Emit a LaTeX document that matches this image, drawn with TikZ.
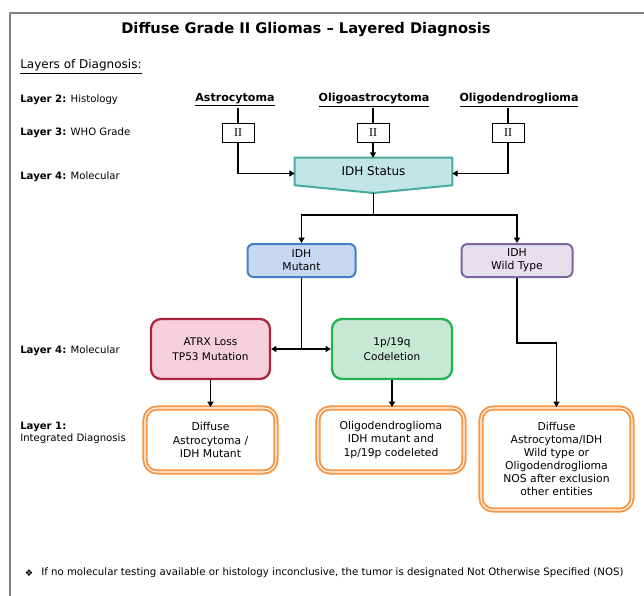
\documentclass[tikz,border=0pt]{standalone}
\usepackage{fontspec}
\setmainfont{DejaVu Sans}
\newfontfamily\gradefont{Liberation Serif}
\usetikzlibrary{arrows.meta,calc}
\definecolor{framegray}{RGB}{128,128,128}
\definecolor{tealfill}{RGB}{192,229,228}
\definecolor{tealdraw}{RGB}{70,170,158}
\definecolor{bluefill}{RGB}{198,217,241}
\definecolor{bluedraw}{RGB}{68,125,200}
\definecolor{lavfill}{RGB}{229,224,236}
\definecolor{lavdraw}{RGB}{128,100,162}
\definecolor{pinkfill}{RGB}{245,208,218}
\definecolor{pinkdraw}{RGB}{172,35,62}
\definecolor{greenfill}{RGB}{198,232,212}
\definecolor{greendraw}{RGB}{35,178,80}
\definecolor{orangedraw}{RGB}{247,150,70}
\begin{document}
\begin{tikzpicture}[x=0.75pt,y=-0.75pt,
  lbl/.style={font=\fontsize{7.6}{9}\selectfont, anchor=west, inner sep=0pt},
  hist/.style={font=\bfseries\fontsize{8.3}{10}\selectfont, inner sep=1pt},
  gradebox/.style={draw, line width=0.6pt, minimum width=24pt, minimum height=14pt, inner sep=0pt, font=\gradefont\fontsize{9}{10}\selectfont},
  rbox/.style={rounded corners=4.5pt, line width=1.5pt, align=center, inner sep=0pt, font=\fontsize{8.1}{9.6}\selectfont, minimum width=81pt, minimum height=24.75pt},
  mbox/.style={rounded corners=7.5pt, line width=1.7pt, align=center, inner sep=0pt, font=\fontsize{7.9}{11.5}\selectfont, minimum width=89.25pt, minimum height=45pt},
  obox/.style={draw=orangedraw, double=white, line width=1.5pt, double distance=0.8pt, rounded corners=9pt, align=center, inner sep=0pt, font=\fontsize{8.1}{9.8}\selectfont, minimum height=48pt},
  arr/.style={line width=1.4pt, -{Triangle[length=4pt,width=4.5pt]}},
  ln/.style={line width=1.4pt},
  darr/.style={line width=1.4pt, {Triangle[length=4pt,width=4.5pt]}-{Triangle[length=4pt,width=4.5pt]}}
]
\useasboundingbox (0,0) rectangle (644,596);
\draw[framegray, line width=1.2pt] (10,596) -- (10,13) -- (644,13);

\node[font=\bfseries\fontsize{11}{13}\selectfont] (title) at (306,30) {Diffuse Grade II Gliomas -- Layered Diagnosis};
\node[lbl, font=\fontsize{9}{11}\selectfont] (layers) at (20,67) {\underline{Layers of Diagnosis:}};
\node[lbl] (l2) at (20,100) {\textbf{Layer 2:} Histology};
\node[lbl] (l3) at (20,133) {\textbf{Layer 3:} WHO Grade};
\node[lbl] (l4a) at (20,177) {\textbf{Layer 4:} Molecular};
\node[lbl] (l4b) at (20,351) {\textbf{Layer 4:} Molecular};
\node[lbl, align=left, anchor=north west] (l1) at (20,422) {\textbf{Layer 1:}\\Integrated Diagnosis};

\node[hist] (astro) at (235,100) {\underline{Astrocytoma}};
\node[hist] (oligoastro) at (374,100) {\underline{Oligoastrocytoma}};
\node[hist] (oligoden) at (519,100) {\underline{Oligodendroglioma}};

\node[gradebox] (g1) at (238,133) {II};
\node[gradebox] (g2) at (373,133) {II};
\node[gradebox] (g3) at (508,133) {II};

\node[minimum width=117.75pt, minimum height=20.25pt, inner sep=0pt] (idh) at (373.5,171.5) {};
\coordinate (idhtip) at (373.5,193);
\draw[fill=tealfill, draw=tealdraw, line width=1.5pt, line join=round]
  (idh.north west) -- (idh.north east) -- (idh.south east) -- (idhtip) -- (idh.south west) -- cycle;
\node[font=\fontsize{9}{11}\selectfont] at (idh) {IDH Status};

\node[rbox, draw=bluedraw, fill=bluefill] (mut) at (301.5,260.5) {IDH\\Mutant};
\node[rbox, draw=lavdraw, fill=lavfill, minimum width=83.25pt] (wt) at (517,260.5) {IDH\\Wild Type};

\node[mbox, draw=pinkdraw, fill=pinkfill] (atrx) at (210.5,349) {ATRX Loss\\TP53 Mutation};
\node[mbox, draw=greendraw, fill=greenfill, minimum width=90pt] (codel) at (392,349) {1p/19q\\Codeletion};

\node[obox, minimum width=98.25pt] (d1) at (210.5,440) {Diffuse\\Astrocytoma /\\IDH Mutant};
\node[obox, minimum width=109.5pt] (d2) at (391,440) {Oligodendroglioma\\IDH mutant and\\1p/19p codeleted};
\node[obox, minimum width=113.25pt, minimum height=76.5pt] (d3) at (556.5,459) {Diffuse\\Astrocytoma/IDH\\Wild type or\\Oligodendroglioma\\NOS after exclusion\\other entities};

\draw[ln] (astro.south -| g1.north) -- (g1.north);
\draw[ln] (oligoastro.south -| g2.north) -- (g2.north);
\draw[ln] (oligoden.south -| g3.north) -- (g3.north);
\draw[arr] (g1.south) |- ($(idh.west)+(0,2)$);
\draw[arr] (g2.south) -- (g2.south |- idh.north);
\draw[arr] (g3.south) |- ($(idh.east)+(0,2)$);

\coordinate (split) at (373.5,215);
\draw[ln] (idhtip) -- (split);
\draw[arr] (split) -| (mut.north);
\draw[arr] (split) -| (wt.north);

\coordinate (junc) at (mut.south |- atrx.east);
\draw[ln] (mut.south) -- (junc);
\draw[darr] (atrx.east) -- (codel.west);

\draw[arr] (atrx.south) -- (atrx.south |- d1.north);
\draw[arr] (codel.south) -- (codel.south |- d2.north);
\coordinate (bend) at (517,343);
\draw[arr] (wt.south) -- (bend) -| (d3.north);

\node[font=\fontsize{7}{8}\selectfont, inner sep=0pt] (bullet) at (29,573) {❖};
\node[lbl, font=\fontsize{7.65}{9}\selectfont] (foot) at (41,573) {If no molecular testing available or histology inconclusive, the tumor is designated Not Otherwise Specified (NOS)};
\end{tikzpicture}
\end{document}
